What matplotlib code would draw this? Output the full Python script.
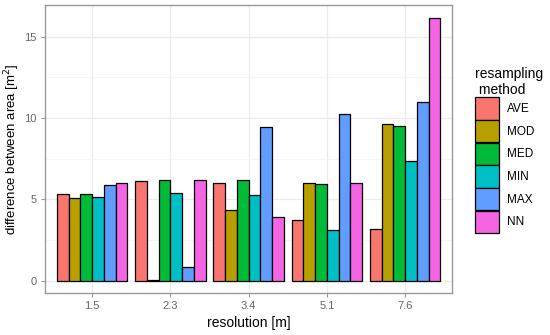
import numpy as np
from matplotlib import pyplot as plt
from matplotlib.patches import Patch

plt.rcParams['font.family'] = ['Liberation Sans', 'DejaVu Sans']

resolutions = ['1.5', '2.3', '3.4', '5.1', '7.6']
methods = ['AVE', 'MOD', 'MED', 'MIN', 'MAX', 'NN']
colors = ['#F8766D', '#B79F00', '#00BA38', '#00BFC4', '#619CFF', '#F564E3']

# difference between area per method, one entry per resolution
ave = [5.31, 6.13, 6.03, 3.73, 3.16]
mod = [5.07, 0.04, 4.35, 6.03, 9.64]
med = [5.35, 6.17, 6.17, 5.95, 9.51]
mn = [5.13, 5.41, 5.25, 3.12, 7.38]
mx = [5.87, 0.82, 9.47, 10.25, 11.01]
nn = [5.99, 6.17, 3.94, 5.99, 16.18]
values = [ave, mod, med, mn, mx, nn]

fig = plt.figure(figsize=(5.5, 3.35), dpi=100)
ax = fig.add_axes([0.082, 0.125, 0.74, 0.86])

x = np.arange(len(resolutions))
w = 0.9 / len(methods)
for i, (vals, c) in enumerate(zip(values, colors)):
    ax.bar(x - 0.45 + w * (i + 0.5), vals, width=w, color=c,
           edgecolor='black', linewidth=0.9, zorder=3)

ax.set_xlim(-0.6, len(resolutions) - 0.4)
ax.set_ylim(-0.77, 16.95)
ax.set_xticks(x)
ax.set_xticklabels(resolutions)
ax.set_yticks([0, 5, 10, 15])
ax.set_yticks([2.5, 7.5, 12.5], minor=True)
ax.grid(which='major', color='#ebebeb', linewidth=0.9, zorder=0)
ax.grid(which='minor', axis='y', color='#f4f4f4', linewidth=0.6, zorder=0)
ax.tick_params(which='minor', length=0)
ax.tick_params(which='major', length=3, color='#999999', labelsize=8,
               labelcolor='#666666', pad=3)
for s in ax.spines.values():
    s.set_color('#999999')
    s.set_linewidth(1.0)

ax.set_xlabel('resolution [m]', fontsize=10, labelpad=3)
ax.set_ylabel('difference between area [m$^2$]', fontsize=9.5, labelpad=2)

handles = [Patch(facecolor=c, edgecolor='black', linewidth=0.9) for c in colors]
leg = fig.legend(handles, methods, loc='upper left', bbox_to_anchor=(0.855, 0.815),
                 title='resampling\n method', title_fontsize=10, fontsize=8.5,
                 frameon=False, handlelength=2.0, handleheight=2.5,
                 handletextpad=0.7, labelspacing=0.05, borderaxespad=0)
leg._legend_box.align = 'left'

fig.savefig('out.png', dpi=100)
